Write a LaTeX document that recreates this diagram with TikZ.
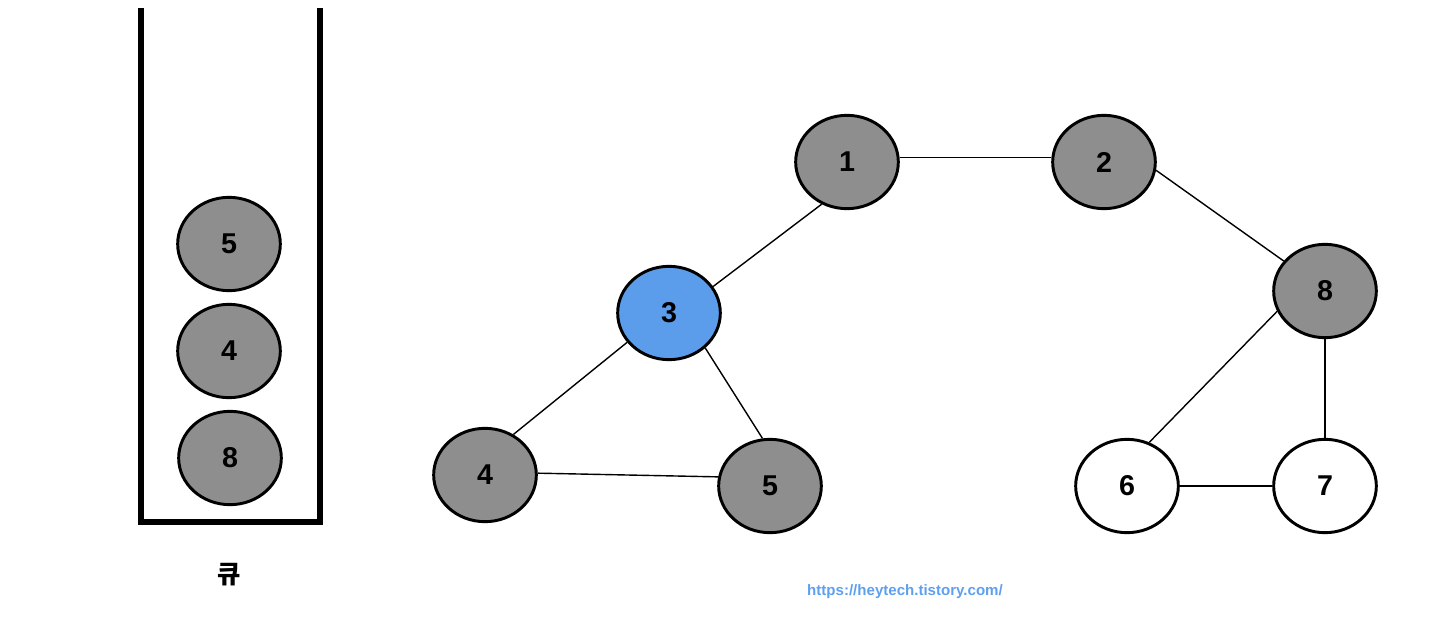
\documentclass[tikz,border=0pt]{standalone}
\usepackage{fontspec}
\setmainfont{Liberation Sans}
\newfontfamily\korfont{Noto Sans CJK KR}
\usepackage{tikz}
\usetikzlibrary{shapes.geometric}
\definecolor{vgray}{HTML}{8E8E8E}
\definecolor{vblue}{HTML}{5B9DEB}
\definecolor{urlblue}{HTML}{5FA0EE}

\begin{document}
\begin{tikzpicture}[
  x=0.75pt, y=-0.75pt,
  font=\fontsize{21.5}{25}\selectfont\bfseries,
  vert/.style={ellipse, draw, line width=2.2pt, minimum width=77pt,
               minimum height=70pt, inner sep=0pt},
  done/.style={vert, fill=vgray},
  cur/.style={vert, fill=vblue},
  todo/.style={vert, fill=white},
  edge/.style={line width=1.05pt},
  wall/.style={line width=3.8pt}
]
  \useasboundingbox (0,0) rectangle (1450,640);
  % queue
  \coordinate (qtl) at (141,8);
  \coordinate (qbl) at (141,522);
  \coordinate (qbr) at (320,522);
  \coordinate (qtr) at (320,8);
  \draw[wall] (qtl) -- (qbl) -- (qbr) -- (qtr);
  \node[done] (q5) at (229,244) {5};
  \node[done] (q4) at (229,351) {4};
  \node[done] (q8) at (230,458) {8};
  \node[font=\fontsize{19}{22}\selectfont\korfont\bfseries] (qlab) at (229,575) {큐};
  % graph
  \node[done] (n1) at (847,162) {1};
  \node[done] (n2) at (1104,162) {2};
  \node[cur]  (n3) at (669,313) {3};
  \node[done] (n8) at (1325,291) {8};
  \node[done] (n4) at (485,475) {4};
  \node[done] (n5) at (770,486) {5};
  \node[todo] (n6) at (1127,486) {6};
  \node[todo] (n7) at (1325,486) {7};
  \draw[edge] (n1.5) -- (n2.175);
  \draw[edge] (n1.239) -- (n3.31);
  \draw[edge] (n2.-9) -- (n8.144);
  \draw[edge] (n3.215) -- (n4.55);
  \draw[edge] (n3.316) -- (n5.99);
  \draw[edge] (n4.2) -- (n5.170);
  \draw[edge] (n8.203) -- (n6.63);
  \draw[edge] (n8) -- (n7);
  \draw[edge] (n6) -- (n7);
  \node[font=\fontsize{11.3}{13}\selectfont\bfseries, text=urlblue] (url) at (905,592) {https://heytech.tistory.com/};
\end{tikzpicture}
\end{document}
